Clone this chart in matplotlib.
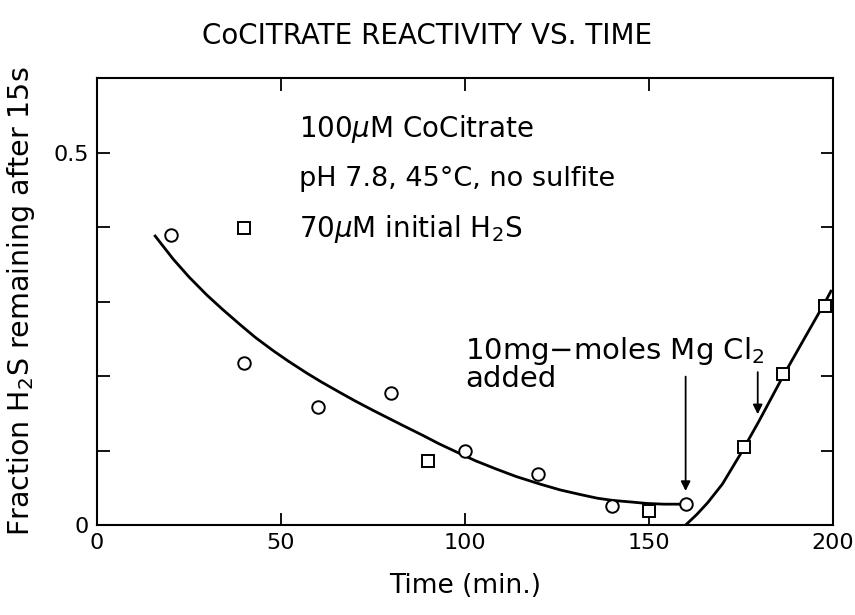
import matplotlib.pyplot as plt

# measured points: circles and squares
circ_t = [20, 40, 60, 80, 100, 120, 140, 160]
circ_f = [0.390, 0.218, 0.159, 0.177, 0.099, 0.068, 0.025, 0.028]
sq_t = [40, 90, 150, 176, 186.5, 198]
sq_f = [0.399, 0.086, 0.019, 0.105, 0.203, 0.294]

# hand-drawn trend lines
fit1_t = [15.8, 20.7, 25, 29.8, 34, 38.9, 43, 47.9, 52, 57, 61, 66, 70, 75, 77, 83,
          88.7, 93, 98.6, 103, 108.6, 114, 120.4, 126, 131.3, 136, 140.3, 145, 149.4, 154, 160]
fit1_f = [0.388, 0.357, 0.333, 0.309, 0.290, 0.269, 0.252, 0.234, 0.220, 0.204, 0.192, 0.178,
          0.167, 0.154, 0.149, 0.134, 0.120, 0.109, 0.096, 0.086, 0.075, 0.065, 0.055, 0.047,
          0.041, 0.036, 0.033, 0.031, 0.029, 0.028, 0.028]
fit2_t = [160, 163, 166, 170, 175, 180, 186.5, 192, 198, 199.5]
fit2_f = [0.0, 0.014, 0.030, 0.055, 0.096, 0.140, 0.200, 0.248, 0.300, 0.314]

xticks = [0, 50, 100, 150, 200]

fig = plt.figure(figsize=(8.55, 6.15), dpi=100)
ax = fig.add_axes([0.1135, 0.1463, 0.8605, 0.7267])

ax.plot(fit1_t, fit1_f, color='black', lw=2)
ax.plot(fit2_t, fit2_f, color='black', lw=2)
ax.plot(circ_t, circ_f, 'o', ms=9, mfc='white', mec='black', mew=1.4, zorder=3)
ax.plot(sq_t, sq_f, 's', ms=8.5, mfc='white', mec='black', mew=1.4, zorder=3)

ax.set_xlim(0, 200)
ax.set_ylim(0, 0.6)
ax.set_xticks(xticks)
ax.set_xticklabels([str(v) for v in xticks])
ax.set_yticks([0, 0.1, 0.2, 0.3, 0.4, 0.5])
ax.set_yticklabels(['0', '', '', '', '', '0.5'])
ax.tick_params(direction='in', top=True, right=True, length=9, width=1.3,
               labelsize=16, pad=6)
for s in ax.spines.values():
    s.set_linewidth(1.5)

ax.set_xlabel('Time (min.)', fontsize=19, labelpad=14)
ax.set_ylabel('Fraction H$_2$S remaining after 15s', fontsize=20.5, labelpad=12)
fig.suptitle('CoCITRATE REACTIVITY VS. TIME', fontsize=20, y=0.965)

ax.text(55, 0.532, '100$\\mu$M CoCitrate', fontsize=20, va='center')
ax.text(55, 0.465, 'pH 7.8, 45°C, no sulfite', fontsize=19.5, va='center')
ax.text(55, 0.398, '70$\\mu$M initial H$_2$S', fontsize=20, va='center')

ax.text(100, 0.233, '10mg\u2212moles Mg Cl$_2$', fontsize=21, va='center')
ax.text(100, 0.196, 'added', fontsize=21, va='center')

ax.annotate('', xy=(160, 0.042), xytext=(160, 0.203),
            arrowprops=dict(arrowstyle='-|>', color='black', lw=1.3, mutation_scale=14))
ax.annotate('', xy=(179.6, 0.145), xytext=(179.6, 0.209),
            arrowprops=dict(arrowstyle='-|>', color='black', lw=1.3, mutation_scale=14))

fig.savefig('out.png', dpi=100)
